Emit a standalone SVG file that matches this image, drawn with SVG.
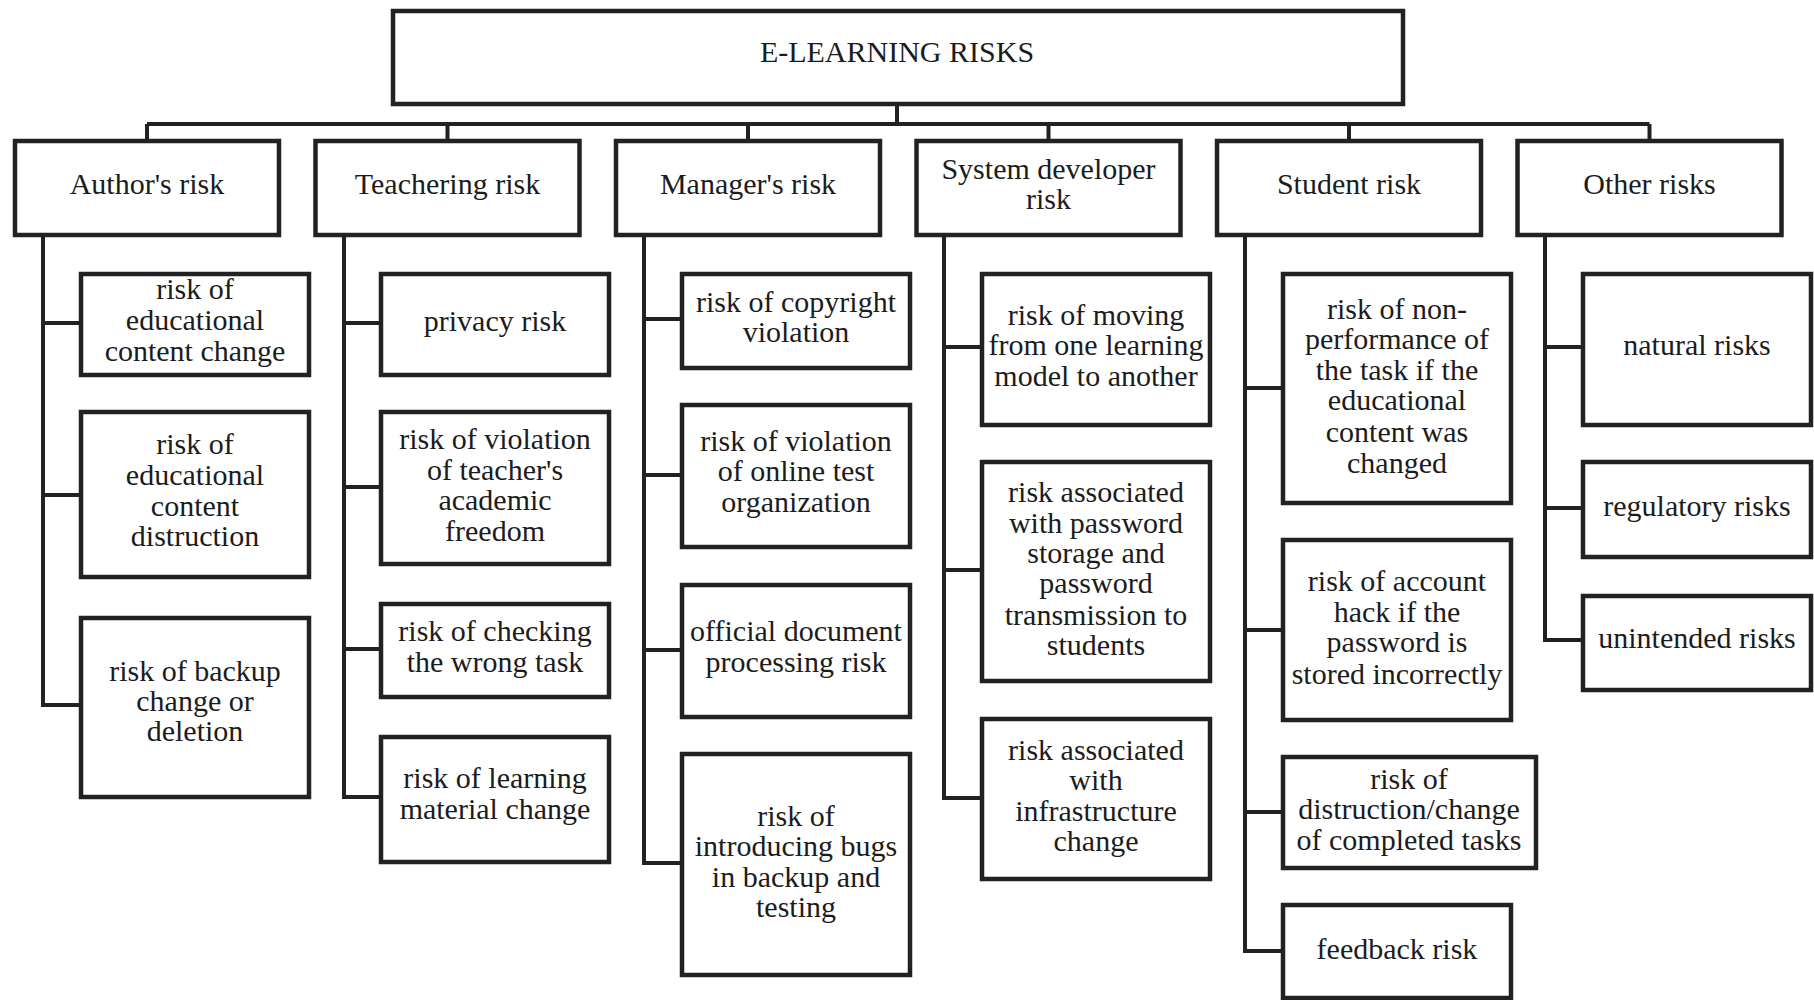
<svg xmlns="http://www.w3.org/2000/svg" width="1814" height="1000" viewBox="0 0 1814 1000">
<style>
rect{fill:#fff;stroke:#222;stroke-width:4.5}
text{font-family:'Liberation Serif',Tinos,'DejaVu Serif',serif;font-size:30px;fill:#1c1c1c;text-anchor:middle}
.c{fill:none;stroke:#222;stroke-width:4}
</style>
<rect x="0" y="0" width="1814" height="1000" style="fill:#fff;stroke:none"/>
<g id="connectors">
<path class="c" d="M897 104V124M147 124H1649.5M147 124V141M447.5 124V141M748 124V141M1048.5 124V141M1349 124V141M1649.5 124V141"/>
<path class="c" d="M43 235V705H81M43 323H81M43 495H81"/>
<path class="c" d="M344 235V797H381M344 323H381M344 487H381M344 649H381"/>
<path class="c" d="M644 235V863H682M644 319H682M644 475H682M644 650H682"/>
<path class="c" d="M944 235V798H982M944 347H982M944 570H982"/>
<path class="c" d="M1245 235V951H1283M1245 388H1283M1245 630H1283M1245 812H1283"/>
<path class="c" d="M1545 235V640H1583M1545 347H1583M1545 508H1583"/>
</g>
<g id="root"><rect x="393" y="11" width="1010" height="93"/><text x="897" y="62">E-LEARNING RISKS</text></g>
<g id="cat-author"><rect x="15" y="141" width="264" height="94"/><text x="147" y="194">Author's risk</text></g>
<g id="cat-teacher"><rect x="315.5" y="141" width="264" height="94"/><text x="447.5" y="194">Teachering risk</text></g>
<g id="cat-manager"><rect x="616" y="141" width="264" height="94"/><text x="748" y="194">Manager's risk</text></g>
<g id="cat-system"><rect x="916.5" y="141" width="264" height="94"/><text x="1048.5" y="179">System developer</text><text x="1048.5" y="209">risk</text></g>
<g id="cat-student"><rect x="1217" y="141" width="264" height="94"/><text x="1349" y="194">Student risk</text></g>
<g id="cat-other"><rect x="1517.5" y="141" width="264" height="94"/><text x="1649.5" y="194">Other risks</text></g>

<g id="a1"><rect x="81" y="274" width="228" height="101"/><text x="195" y="299">risk of</text><text x="195" y="330">educational</text><text x="195" y="361">content change</text></g>
<g id="a2"><rect x="81" y="412" width="228" height="165"/><text x="195" y="454">risk of</text><text x="195" y="485">educational</text><text x="195" y="516">content</text><text x="195" y="546">distruction</text></g>
<g id="a3"><rect x="81" y="618" width="228" height="179"/><text x="195" y="681">risk of backup</text><text x="195" y="711">change or</text><text x="195" y="741">deletion</text></g>

<g id="t1"><rect x="381" y="274" width="228" height="101"/><text x="495" y="331">privacy risk</text></g>
<g id="t2"><rect x="381" y="412" width="228" height="152"/><text x="495" y="449">risk of violation</text><text x="495" y="480">of teacher's</text><text x="495" y="510">academic</text><text x="495" y="541">freedom</text></g>
<g id="t3"><rect x="381" y="604" width="228" height="93"/><text x="495" y="641">risk of checking</text><text x="495" y="672">the wrong task</text></g>
<g id="t4"><rect x="381" y="737" width="228" height="125"/><text x="495" y="788">risk of learning</text><text x="495" y="819">material change</text></g>

<g id="m1"><rect x="682" y="274" width="228" height="94"/><text x="796" y="312">risk of copyright</text><text x="796" y="342">violation</text></g>
<g id="m2"><rect x="682" y="405" width="228" height="142"/><text x="796" y="451">risk of violation</text><text x="796" y="481">of online test</text><text x="796" y="512">organization</text></g>
<g id="m3"><rect x="682" y="585" width="228" height="132"/><text x="796" y="641">official document</text><text x="796" y="672">processing risk</text></g>
<g id="m4"><rect x="682" y="754" width="228" height="221"/><text x="796" y="826">risk of</text><text x="796" y="856">introducing bugs</text><text x="796" y="887">in backup and</text><text x="796" y="917">testing</text></g>

<g id="s1"><rect x="982" y="274" width="228" height="151"/><text x="1096" y="325">risk of moving</text><text x="1096" y="355">from one learning</text><text x="1096" y="386">model to another</text></g>
<g id="s2"><rect x="982" y="462" width="228" height="219"/><text x="1096" y="502">risk associated</text><text x="1096" y="533">with password</text><text x="1096" y="563">storage and</text><text x="1096" y="593">password</text><text x="1096" y="625">transmission to</text><text x="1096" y="655">students</text></g>
<g id="s3"><rect x="982" y="719" width="228" height="160"/><text x="1096" y="760">risk associated</text><text x="1096" y="790">with</text><text x="1096" y="821">infrastructure</text><text x="1096" y="851">change</text></g>

<g id="st1"><rect x="1283" y="274" width="228" height="229"/><text x="1397" y="319">risk of non-</text><text x="1397" y="349">performance of</text><text x="1397" y="380">the task if the</text><text x="1397" y="410">educational</text><text x="1397" y="442">content was</text><text x="1397" y="473">changed</text></g>
<g id="st2"><rect x="1283" y="540" width="228" height="180"/><text x="1397" y="591">risk of account</text><text x="1397" y="622">hack if the</text><text x="1397" y="652">password is</text><text x="1397" y="684">stored incorrectly</text></g>
<g id="st3"><rect x="1283" y="757" width="253" height="111"/><text x="1409" y="789">risk of</text><text x="1409" y="819">distruction/change</text><text x="1409" y="850">of completed tasks</text></g>
<g id="st4"><rect x="1283" y="905" width="228" height="93"/><text x="1397" y="959">feedback risk</text></g>

<g id="o1"><rect x="1583" y="274" width="228" height="151"/><text x="1697" y="355">natural risks</text></g>
<g id="o2"><rect x="1583" y="462" width="228" height="95"/><text x="1697" y="516">regulatory risks</text></g>
<g id="o3"><rect x="1583" y="596" width="228" height="94"/><text x="1697" y="648">unintended risks</text></g>
</svg>
